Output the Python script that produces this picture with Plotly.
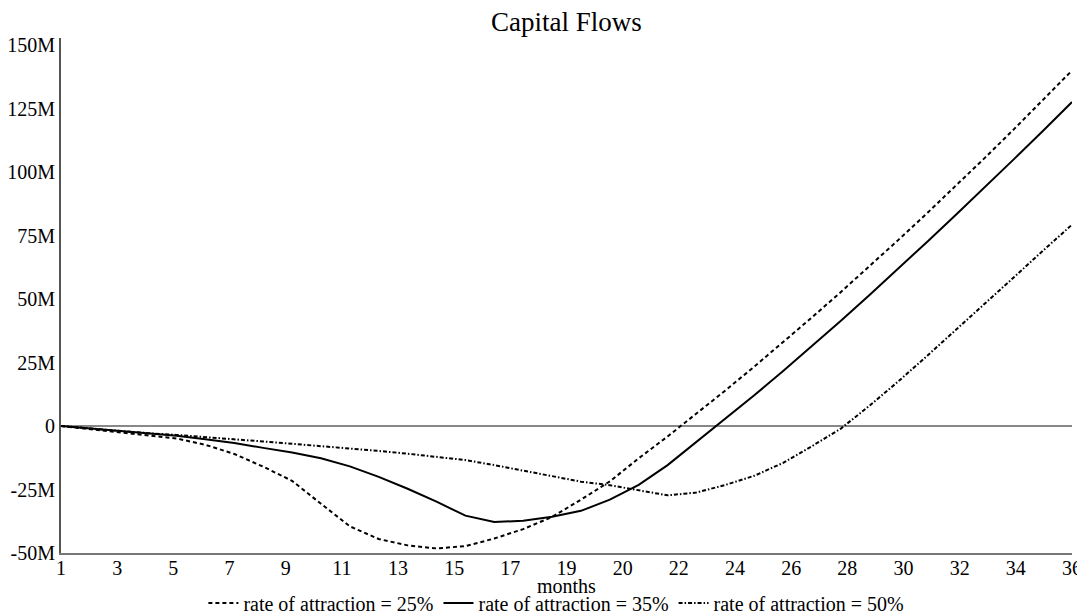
import numpy as np
import plotly.graph_objects as go

months = list(range(1, 37))

rate_25 = [0, -1.2, -2.3, -3.5, -4.9, -7.4, -11.0, -16.0, -21.6, -30.6, -39.5, -44.5,
           -47.0, -48.2, -47.3, -44.3, -40.6, -35.8, -29.0, -21.8, -12.7, -4.1, 4.8, 14.0,
           23.4, 33.0, 42.8, 52.8, 63.0, 73.4, 84.0, 94.8, 105.8, 117.0, 128.4, 140.0]

rate_35 = [0, -0.9, -1.8, -2.8, -3.8, -5.2, -6.7, -8.6, -10.4, -12.7, -15.9, -20.0,
           -24.7, -29.8, -35.3, -37.8, -37.3, -35.7, -33.4, -29.0, -23.2, -15.4, -6.2, 2.8,
           12.1, 21.7, 31.5, 41.5, 51.7, 62.1, 72.7, 83.4, 94.2, 105.2, 116.3, 127.6]

rate_50 = [0, -1.0, -2.0, -2.8, -3.5, -4.3, -5.2, -6.1, -7.0, -7.9, -8.8, -9.8,
           -10.9, -12.2, -13.4, -15.4, -17.6, -19.9, -21.9, -23.3, -25.2, -27.3, -26.2, -23.2,
           -19.6, -14.5, -7.9, -1.0, 8.1, 17.7, 27.8, 38.0, 48.3, 58.7, 69.1, 79.3]

series_names = ["rate of attraction = 25%", "rate of attraction = 35%", "rate of attraction = 50%"]

x_tick_labels = ["1", "3", "5", "7", "9", "11", "13", "15", "17", "19",
                 "20", "22", "24", "26", "28", "30", "32", "34", "36"]
y_tick_values_m = [-50, -25, 0, 25, 50, 75, 100, 125, 150]
y_tick_labels = ["-50M", "-25M", "0", "25M", "50M", "75M", "100M", "125M", "150M"]
x_title = "months"

FONT = "Liberation Serif, Times New Roman, serif"

# the page body has an 8px default margin; the figure is shifted by it,
# so margins are reduced on the left/top and the overflow on the right/bottom is blank
W, H = 1085, 640

fig = go.Figure()
styles = [
    dict(color="black", width=2, dash="4px,3px"),
    dict(color="black", width=2, dash="solid"),
    dict(color="black", width=2, dash="4px,2px,1.5px,2px"),
]
for name, vals, st in zip(series_names, [rate_25, rate_35, rate_50], styles):
    fig.add_trace(go.Scatter(
        x=months, y=[v * 1e6 for v in vals], mode="lines", name=name, line=st,
    ))

tickvals_x = np.linspace(months[0], months[-1], len(x_tick_labels))

fig.update_layout(
    width=W, height=H,
    margin=dict(l=53, r=21, t=30, b=95),
    paper_bgcolor="white", plot_bgcolor="white",
    font=dict(family=FONT, size=20, color="black"),
    title=dict(text="Capital Flows", x=0.5, xref="paper", xanchor="center",
               y=1 - 14 / H, yref="container", yanchor="middle",
               font=dict(family=FONT, size=27, color="black")),
    showlegend=True,
    legend=dict(orientation="h", x=0.49, xanchor="center", y=-0.097, yanchor="middle",
                font=dict(family=FONT, size=20, color="black"),
                itemwidth=30, tracegroupgap=0, bgcolor="rgba(0,0,0,0)"),
    xaxis=dict(
        range=[months[0], months[-1]], automargin=False,
        tickmode="array", tickvals=tickvals_x, ticktext=x_tick_labels,
        showgrid=False, zeroline=False, showline=True, linecolor="#777777", linewidth=2,
        ticks="", ticklen=0, ticklabelstandoff=-4,
        tickfont=dict(family=FONT, size=20, color="black"),
    ),
    yaxis=dict(
        range=[-50e6, 152.8e6], automargin=False,
        tickmode="array", tickvals=[v * 1e6 for v in y_tick_values_m], ticktext=y_tick_labels,
        showgrid=False, zeroline=True, zerolinecolor="#888888", zerolinewidth=2,
        showline=True, linecolor="#555555", linewidth=2,
        ticks="", ticklen=0,
        tickfont=dict(family=FONT, size=20, color="black"),
    ),
    annotations=[dict(text=x_title, xref="paper", yref="paper", x=0.5, y=-33 / 515,
                      xanchor="center", yanchor="middle", showarrow=False,
                      font=dict(family=FONT, size=20, color="black"))],
)

fig.write_html("out.html")
